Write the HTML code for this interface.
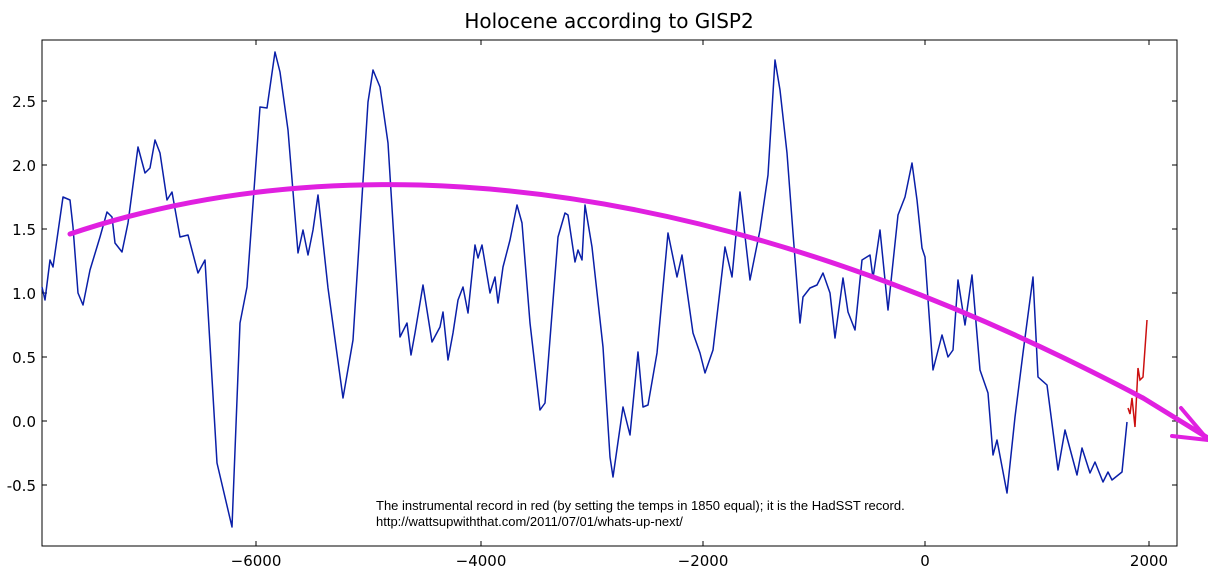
<!DOCTYPE html>
<html><head><meta charset="utf-8"><style>
body{margin:0;background:#fff;}
svg{display:block;font-family:"DejaVu Sans","Liberation Sans",sans-serif;}
</style></head><body>
<svg width="1208" height="572" viewBox="0 0 1208 572" xmlns="http://www.w3.org/2000/svg">
<rect width="1208" height="572" fill="#fff"/>
<text x="609" y="28" font-size="20" text-anchor="middle">Holocene according to GISP2</text>
<rect x="42" y="40" width="1135" height="506" fill="none" stroke="#000" stroke-width="1"/>
<g stroke="#000" stroke-width="1">
<line x1="256" y1="546" x2="256" y2="541"/><line x1="481" y1="546" x2="481" y2="541"/><line x1="703" y1="546" x2="703" y2="541"/><line x1="925" y1="546" x2="925" y2="541"/><line x1="1149" y1="546" x2="1149" y2="541"/>
<line x1="256" y1="40" x2="256" y2="45"/><line x1="481" y1="40" x2="481" y2="45"/><line x1="703" y1="40" x2="703" y2="45"/><line x1="925" y1="40" x2="925" y2="45"/><line x1="1149" y1="40" x2="1149" y2="45"/>
<line x1="42" y1="101" x2="47" y2="101"/><line x1="42" y1="165" x2="47" y2="165"/><line x1="42" y1="229" x2="47" y2="229"/><line x1="42" y1="293" x2="47" y2="293"/><line x1="42" y1="357" x2="47" y2="357"/><line x1="42" y1="421" x2="47" y2="421"/><line x1="42" y1="485" x2="47" y2="485"/>
<line x1="1177" y1="101" x2="1172" y2="101"/><line x1="1177" y1="165" x2="1172" y2="165"/><line x1="1177" y1="229" x2="1172" y2="229"/><line x1="1177" y1="293" x2="1172" y2="293"/><line x1="1177" y1="357" x2="1172" y2="357"/><line x1="1177" y1="421" x2="1172" y2="421"/><line x1="1177" y1="485" x2="1172" y2="485"/>
</g>
<g font-size="15" text-anchor="end">
<text x="36" y="107">2.5</text><text x="36" y="171">2.0</text><text x="36" y="235">1.5</text><text x="36" y="299">1.0</text><text x="36" y="363">0.5</text><text x="36" y="427">0.0</text><text x="36" y="491">-0.5</text>
</g>
<g font-size="15" text-anchor="middle">
<text x="256" y="566">−6000</text><text x="481" y="566">−4000</text><text x="703" y="566">−2000</text><text x="925" y="566">0</text><text x="1149" y="566">2000</text>
</g>
<polyline fill="none" stroke="#0a1fa8" stroke-width="1.5" stroke-linejoin="round" points="42,287 45,300 50,260 53,267 63,197 70,200 73,227 78,293 83,305 90,270 100,237 107,212 112,217 115,243 122,252 128,223 138,147 145,173 150,168 155,140 160,153 167,200 172,192 180,237 188,235 198,273 205,260 217,463 232,527 240,323 247,287 260,107 267,108 275,52 280,72 288,130 298,253 303,230 308,255 313,230 318,195 328,288 343,398 353,340 368,102 373,70 380,87 388,143 400,337 407,323 411,355 415,333 423,285 432,342 440,327 443,312 448,360 453,333 458,300 463,287 468,313 475,245 478,258 482,245 490,293 495,277 498,303 503,267 510,240 517,205 522,223 530,323 540,410 545,403 558,237 565,213 568,215 575,262 578,250 582,260 585,205 592,247 603,347 610,457 613,477 623,407 630,435 638,352 643,407 648,405 657,353 668,233 677,277 682,255 693,333 700,353 705,373 713,350 725,247 732,277 740,192 750,280 760,230 768,175 775,60 780,90 787,153 793,233 800,323 803,297 810,288 817,285 823,273 830,293 835,338 843,278 848,312 855,330 862,260 870,255 873,278 880,230 888,310 898,215 905,197 912,163 917,200 922,248 925,257 933,370 942,335 948,357 953,350 958,280 965,325 972,275 980,370 988,393 993,455 997,440 1007,493 1015,417 1023,353 1033,277 1038,377 1047,385 1058,470 1065,430 1077,475 1082,448 1090,473 1095,462 1103,482 1108,472 1112,480 1122,472 1127,422"/>
<polyline fill="none" stroke="#cc1010" stroke-width="1.5" points="1128,408 1130,414 1132,398 1135,427 1138,368 1140,380 1143,377 1147,320"/>
<path fill="none" stroke="#e020e0" stroke-width="5" stroke-linecap="round" stroke-linejoin="round" d="M70,234 Q230,180 420,185 Q760,195 1143,398 L1208,438"/>
<polyline fill="none" stroke="#e020e0" stroke-width="4" stroke-linecap="round" points="1181,408 1208,440 1172,436"/>
<g font-size="13" font-family="Liberation Sans,sans-serif">
<text x="376" y="510">The instrumental record in red (by setting the temps in 1850 equal); it is the HadSST record.</text>
<text x="376" y="526">http://wattsupwiththat.com/2011/07/01/whats-up-next/</text>
</g>
</svg>
</body></html>
